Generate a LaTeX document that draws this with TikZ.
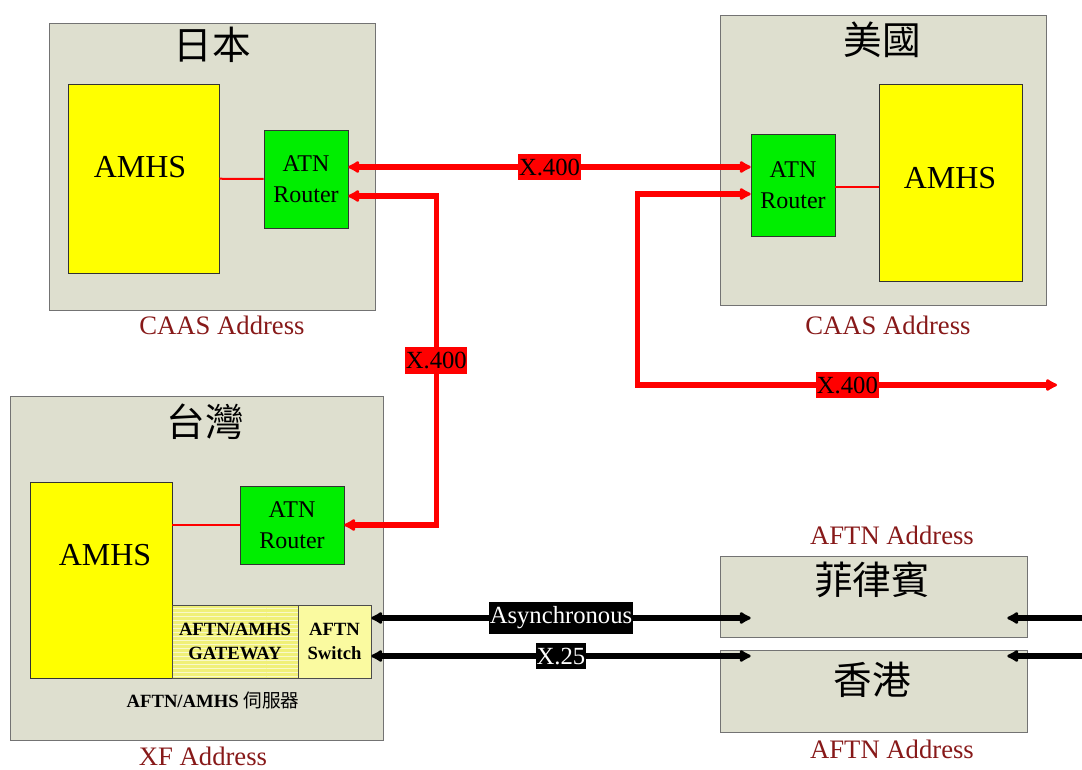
\documentclass[tikz,border=0pt]{standalone}
\usepackage{fontspec}
\setmainfont{Liberation Serif}
\newfontfamily\cjk{Noto Sans CJK TC}
\usetikzlibrary{arrows.meta,calc,patterns}
\definecolor{areagray}{RGB}{222,223,207}
\definecolor{amhsyellow}{RGB}{255,255,0}
\definecolor{routergreen}{RGB}{0,238,0}
\definecolor{gwyellow}{RGB}{240,240,120}
\definecolor{swyellow}{RGB}{250,250,160}
\definecolor{addrred}{RGB}{135,25,25}

\begin{document}
\begin{tikzpicture}[x=0.75pt, y=-0.75pt, >={Latex[length=10pt,width=11pt,round]},
  area/.style={draw=black!55, fill=areagray, inner sep=0pt},
  amhs/.style={draw=black!80, fill=amhsyellow, inner sep=0pt},
  amhstext/.style={font=\fontsize{24}{28}\selectfont},
  router/.style={draw=black!80, fill=routergreen, align=center, inner sep=0pt, font=\fontsize{18}{23}\selectfont},
  title/.style={font=\cjk\fontsize{29}{34}\selectfont},
  addr/.style={text=addrred, font=\fontsize{20}{24}\selectfont},
  small/.style={align=center, inner sep=0pt, font=\bfseries\fontsize{14}{18}\selectfont},
  redlink/.style={<->, red, line width=3.9pt},
  blacklink/.style={black, line width=3.9pt},
  redtag/.style={fill=red, text=black, inner xsep=0.5pt, inner ysep=3.5pt, font=\fontsize{18.5}{20}\selectfont},
  blacktag/.style={fill=black, text=white, inner xsep=0.5pt, inner ysep=3.5pt, font=\fontsize{18.5}{20}\selectfont}]
\path[use as bounding box] (0,0) rectangle (1082,769);
% Japan
\node[area, minimum width=244.5pt, minimum height=215.25pt] (J0) at (212,166.5) {};
\node[title] (J0t) at (212,45) {日本};
\node[amhs, minimum width=113.25pt, minimum height=141.75pt] (J1) at (143.5,178.5) {};
\node[amhstext] (J1t) at (140,167) {AMHS};
\node[router, minimum width=63pt, minimum height=73.5pt] (J2) at (306,179) {ATN\\Router};
\node[addr] (J3) at (222,325) {CAAS Address};
\draw[red, line width=1.5pt] (J1) -- (J2);
% USA
\node[area, minimum width=244.5pt, minimum height=217.5pt] (U0) at (883,160) {};
\node[title] (U0t) at (882,40) {美國};
\node[router, minimum width=63pt, minimum height=76.5pt] (U2) at (793,185) {ATN\\Router};
\node[amhs, minimum width=107.25pt, minimum height=147.75pt] (U1) at (950.5,182.5) {};
\node[amhstext] (U1t) at (950,178) {AMHS};
\node[addr] (U3) at (888,325) {CAAS Address};
\draw[red, line width=1.5pt] (U2.east |- 0,187) -- (U1.west |- 0,187);
% Taiwan
\node[area, minimum width=279.75pt, minimum height=258pt] (T0) at (196.5,568) {};
\node[title] (T0t) at (205,422) {台灣};
\node[amhs, minimum width=106.5pt, minimum height=147pt] (T1) at (101,580) {};
\node[amhstext] (T1t) at (105,555) {AMHS};
\node[router, minimum width=78pt, minimum height=58.5pt] (T2) at (292,525) {ATN\\Router};
\node[small, draw=black!70, preaction={fill=gwyellow}, pattern=horizontal lines, pattern color=white!60!gwyellow,
  minimum width=94.5pt, minimum height=54.75pt] (T3) at (235,641.5) {AFTN/AMHS\\GATEWAY};
\node[small, draw=black!70, fill=swyellow, minimum width=54.75pt, minimum height=54.75pt] (T4) at (334.5,641.5) {AFTN\\Switch};
\node[small] (T5) at (213,700) {AFTN/AMHS {\cjk\mdseries 伺服器}};
\node[addr] (T6) at (203,756) {XF Address};
\draw[red, line width=1.5pt] (T1.east |- T2) -- (T2);
% Philippines, Hong Kong
\node[addr] (P0) at (892,535) {AFTN Address};
\node[area, minimum width=230.25pt, minimum height=60.75pt] (P1) at (873.5,596.5) {};
\node[title] (P1t) at (872,580) {菲律賓};
\node[area, minimum width=230.25pt, minimum height=61.5pt] (H1) at (873.5,691) {};
\node[title] (H1t) at (872,680) {香港};
\node[addr] (H0) at (892,749) {AFTN Address};
\coordinate (R1) at (1057,385);
\coordinate (E1) at (1082,618);
\coordinate (E2) at (1082,656);
% X.400 links
\draw[redlink] ($(J2.east)+(0,-12)$) -- node[redtag] {X.400} ($(U2.west)+(0,-18)$);
\draw[redlink] ($(J2.east)+(0,17)$) -| node[redtag, pos=0.75] {X.400} ($(T2.east)+(92,0)$) -- (T2.east);
\draw[redlink] ($(U2.west)+(0,9)$) -- ++(-113,0) |- node[redtag, pos=0.75] {X.400} (R1);
% AFTN links
\draw[blacklink, <->] ($(T4.east)+(0,-23.5)$) -- node[blacktag] {Asynchronous} ($(P1.west)+(31,21.5)$);
\draw[blacklink, <->] ($(T4.east)+(0,14.5)$) -- node[blacktag] {X.25} ($(H1.west)+(31,-35)$);
\draw[blacklink, ->] (E1) -- ($(P1.east)+(-20,21.5)$);
\draw[blacklink, ->] (E2) -- ($(H1.east)+(-20,-35)$);
\end{tikzpicture}
\end{document}
